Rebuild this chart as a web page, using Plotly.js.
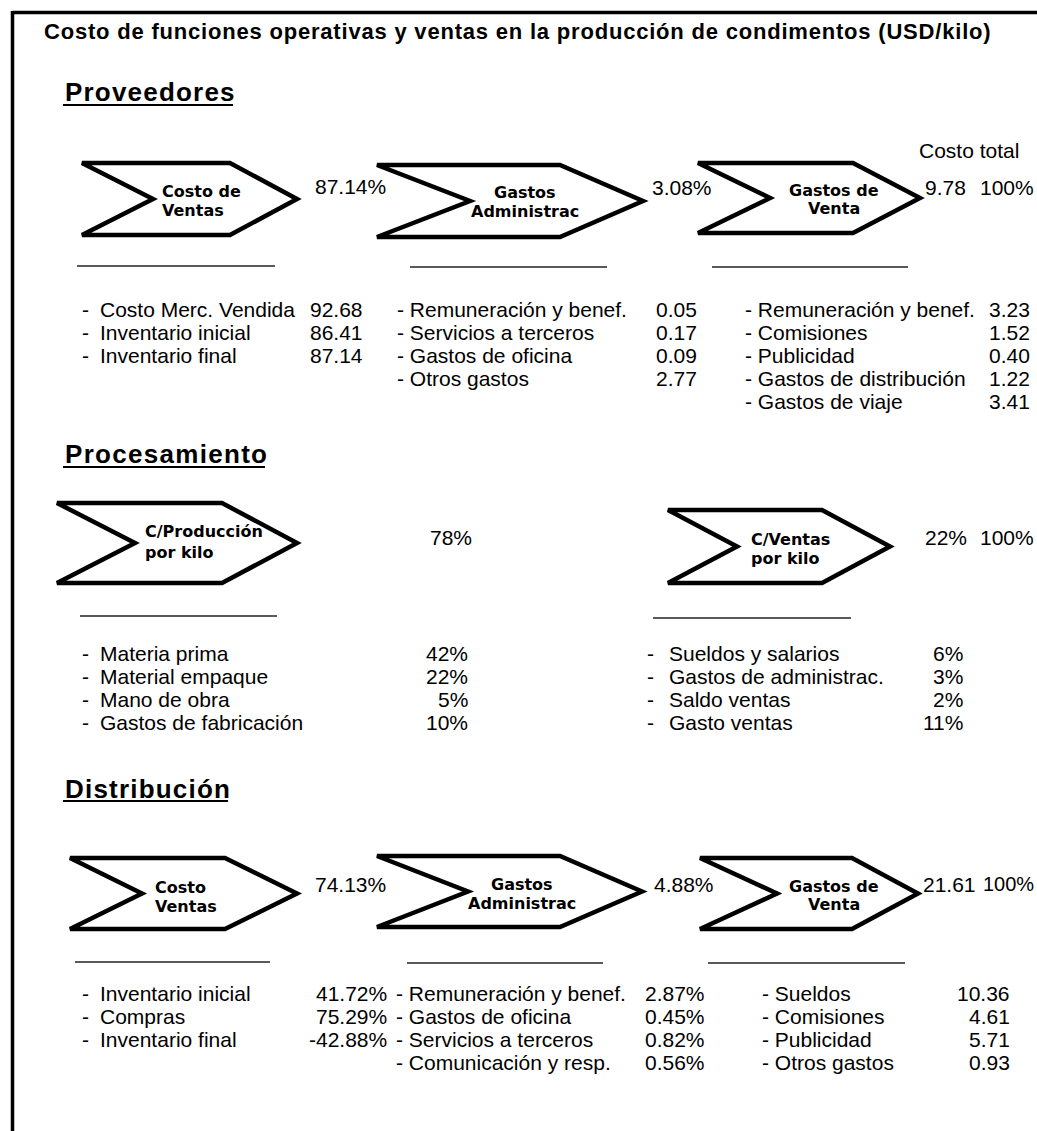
<!DOCTYPE html>
<html>
<head>
<meta charset="utf-8">
<script src="https://cdn.plot.ly/plotly-3.0.1.min.js"></script>
<style>
  html, body { margin: 0; padding: 0; background: #fff; }
  #chart { width: 1037px; height: 1131px; }
</style>
</head>
<body>
<div id="chart"></div>
<script>
// ---------------- DATA ----------------
const TITLE = "Costo de funciones operativas y ventas en la producción de condimentos (USD/kilo)";
const SECTION_NAMES = ["Proveedores", "Procesamiento", "Distribución"];
const TOTAL_LABEL = "Costo total";

// Proveedores
const provStageLabels = [["Costo de", "Ventas"], ["Gastos", "Administrac"], ["Gastos de", "Venta"]];
const provStageValues = ["87.14%", "3.08%", "9.78"];
const provTotal = "100%";
const provCostoItems = ["Costo Merc. Vendida", "Inventario inicial", "Inventario final"];
const provCostoValues = [92.68, 86.41, 87.14];
const provAdminItems = ["Remuneración y benef.", "Servicios a terceros", "Gastos de oficina", "Otros gastos"];
const provAdminValues = [0.05, 0.17, 0.09, 2.77];
const provVentaItems = ["Remuneración y benef.", "Comisiones", "Publicidad", "Gastos de distribución", "Gastos de viaje"];
const provVentaValues = [3.23, 1.52, 0.40, 1.22, 3.41];

// Procesamiento
const procStageLabels = [["C/Producción", "por kilo"], ["C/Ventas", "por kilo"]];
const procStageValues = ["78%", "22%"];
const procTotal = "100%";
const procProdItems = ["Materia prima", "Material empaque", "Mano de obra", "Gastos de fabricación"];
const procProdValues = [42, 22, 5, 10];
const procVentaItems = ["Sueldos y salarios", "Gastos de administrac.", "Saldo ventas", "Gasto ventas"];
const procVentaValues = [6, 3, 2, 11];

// Distribución
const distStageLabels = [["Costo", "Ventas"], ["Gastos", "Administrac"], ["Gastos de", "Venta"]];
const distStageValues = ["74.13%", "4.88%", "21.61"];
const distTotal = "100%";
const distCostoItems = ["Inventario inicial", "Compras", "Inventario final"];
const distCostoValues = [41.72, 75.29, -42.88];
const distAdminItems = ["Remuneración y benef.", "Gastos de oficina", "Servicios a terceros", "Comunicación y resp."];
const distAdminValues = [2.87, 0.45, 0.82, 0.56];
const distVentaItems = ["Sueldos", "Comisiones", "Publicidad", "Otros gastos"];
const distVentaValues = [10.36, 4.61, 5.71, 0.93];

// ---------------- LAYOUT HELPERS ----------------
const W = 1037, H = 1131;
const LIST_FONT = "Liberation Sans, Arial, sans-serif";
const BOX_FONT = "DejaVu Sans, Verdana, sans-serif";
const shapes = [];
const annotations = [];

function ann(x, y, text, o) {
  o = o || {};
  let t = text;
  if (o.ls) t = '<span style="letter-spacing:' + o.ls + 'px">' + t + '</span>';
  annotations.push({
    x: x, y: y, xref: 'x', yref: 'y', text: t, showarrow: false,
    xanchor: o.xa || 'left', yanchor: 'middle', align: o.align || 'left',
    font: { family: o.family || LIST_FONT, size: o.size || 21, color: o.color || '#000',
            weight: o.bold ? 'bold' : 'normal' }
  });
}
function line(x0, y0, x1, y1, w, c) {
  shapes.push({ type: 'line', xref: 'x', yref: 'y', x0: x0, y0: y0, x1: x1, y1: y1,
                line: { color: c || '#000', width: w } });
}
function chevron(x0, xr, xt, xn, y0, y1) {
  const ym = (y0 + y1) / 2;
  shapes.push({ type: 'path', xref: 'x', yref: 'y',
    path: 'M' + x0 + ',' + y0 + ' L' + xr + ',' + y0 + ' L' + xt + ',' + ym + ' L' + xr + ',' + y1 +
          ' L' + x0 + ',' + y1 + ' L' + xn + ',' + ym + ' Z',
    line: { color: '#000', width: 4.5 }, fillcolor: 'rgba(0,0,0,0)' });
}
function stageLabel(lines, x, y, xa, dy) {
  lines.forEach(function (l, i) {
    ann(x, y + i * dy, l, { family: BOX_FONT, size: 16, bold: true, xa: xa, align: xa === 'center' ? 'center' : 'left' });
  });
}
function list(items, values, fmt, col, y0, dy) {
  items.forEach(function (it, i) {
    const y = y0 + i * dy;
    if (col.gap) {
      ann(col.dash, y, '-');
      ann(col.label, y, it);
    } else {
      ann(col.dash, y, '- ' + it);
    }
    ann(col.vr, y, fmt(values[i]), { xa: 'right' });
  });
}
const f2 = v => v.toFixed(2);
const pct0 = v => v + '%';
const pct2 = v => v.toFixed(2) + '%';

// ---------------- FRAME & TITLE ----------------
line(12.5, 12.5, W, 12.5, 3.5);
line(12.5, 11, 12.5, H, 3.5);
ann(42, 31, TITLE, { bold: true, size: 22, ls: 0.8 });

// ---------------- PROVEEDORES ----------------
ann(63, 92, SECTION_NAMES[0], { bold: true, size: 26, ls: 1.2 });
line(63, 105, 233, 105, 2);
chevron(82, 230, 297, 153, 163, 235);
chevron(377, 560, 643, 470, 165, 237);
chevron(698, 853, 920, 770, 163, 233);
stageLabel(provStageLabels[0], 160, 191, 'left', 19);
stageLabel(provStageLabels[1], 525, 192, 'center', 19);
stageLabel(provStageLabels[2], 834, 190, 'center', 18);
ann(313, 186, provStageValues[0]);
ann(650, 187, provStageValues[1]);
ann(923, 187, provStageValues[2]);
ann(978, 187, provTotal);
ann(917, 150, TOTAL_LABEL);
line(77, 266, 275, 266, 1.5, '#222');
line(410, 267, 607, 267, 1.5, '#222');
line(712, 267, 908, 267, 1.5, '#222');
list(provCostoItems, provCostoValues, f2, { gap: true, dash: 80, label: 98, vr: 365 }, 309, 23.2);
list(provAdminItems, provAdminValues, f2, { gap: false, dash: 395, vr: 699 }, 309, 23.2);
list(provVentaItems, provVentaValues, f2, { gap: false, dash: 743, vr: 1032 }, 309, 23.2);

// ---------------- PROCESAMIENTO ----------------
ann(63, 454, SECTION_NAMES[1], { bold: true, size: 26, ls: 1.3 });
line(63, 467, 265, 467, 2);
chevron(57, 222, 297, 135, 503, 583);
chevron(668, 822, 890, 737, 510, 583);
stageLabel(procStageLabels[0], 143, 531, 'left', 21);
stageLabel(procStageLabels[1], 749, 539, 'left', 19);
ann(428, 537, procStageValues[0]);
ann(923, 537, procStageValues[1]);
ann(978, 537, procTotal);
line(80, 616, 277, 616, 1.5, '#222');
line(653, 618, 851, 618, 1.5, '#222');
list(procProdItems, procProdValues, pct0, { gap: true, dash: 80, label: 98, vr: 470 }, 653, 23);
list(procVentaItems, procVentaValues, pct0, { gap: true, dash: 645, label: 667, vr: 965 }, 653, 23);

// ---------------- DISTRIBUCIÓN ----------------
ann(63, 789, SECTION_NAMES[2], { bold: true, size: 26, ls: 1.2 });
line(63, 801, 228, 801, 2);
chevron(70, 225, 297, 142, 858, 929);
chevron(377, 560, 642, 468, 856, 927);
chevron(700, 852, 918, 777, 858, 929);
stageLabel(distStageLabels[0], 153, 887, 'left', 19);
stageLabel(distStageLabels[1], 522, 884, 'center', 19);
stageLabel(distStageLabels[2], 834, 886, 'center', 18);
ann(313, 884, distStageValues[0]);
ann(652, 884, distStageValues[1]);
ann(921, 884, distStageValues[2]);
ann(1036, 884, distTotal, { xa: 'right', size: 20 });
line(75, 962, 270, 962, 1.5, '#222');
line(407, 963, 603, 963, 1.5, '#222');
line(708, 963, 905, 963, 1.5, '#222');
list(distCostoItems, distCostoValues, pct2, { gap: true, dash: 80, label: 98, vr: 389 }, 993, 23);
list(distAdminItems, distAdminValues, pct2, { gap: false, dash: 394, vr: 707 }, 993, 23);
list(distVentaItems, distVentaValues, f2, { gap: false, dash: 760, vr: 1012 }, 993, 23);

// ---------------- RENDER ----------------
const layout = {
  width: W, height: H,
  margin: { l: 0, r: 0, t: 0, b: 0, pad: 0 },
  paper_bgcolor: '#fff', plot_bgcolor: '#fff',
  showlegend: false,
  xaxis: { range: [0, W], visible: false, fixedrange: true },
  yaxis: { range: [H, 0], visible: false, fixedrange: true },
  shapes: shapes,
  annotations: annotations
};
Plotly.newPlot('chart', [], layout, { staticPlot: true, displayModeBar: false });
</script>
</body>
</html>
